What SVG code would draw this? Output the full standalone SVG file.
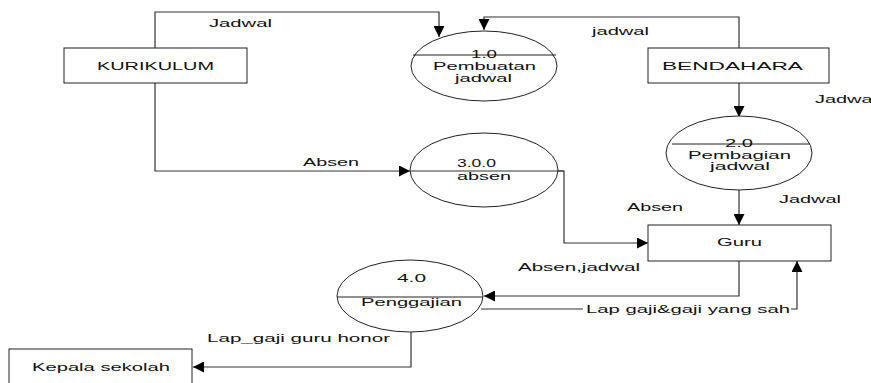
<svg xmlns="http://www.w3.org/2000/svg" width="871" height="383" viewBox="0 0 871 383">
<defs>
<style>
text{font-family:"Liberation Sans",Arial,sans-serif;font-size:11px;fill:#111}
.n{fill:#fff;stroke:#222;stroke-width:1}
.l{fill:none;stroke:#222;stroke-width:1}
.c{fill:none;stroke:#333;stroke-width:1.2}
</style>
<marker id="ah" viewBox="0 0 10 10" refX="10" refY="5" markerWidth="11" markerHeight="11" markerUnits="userSpaceOnUse" orient="auto">
<path d="M0,0 L10,5 L0,10 z" fill="#000"/>
</marker>
</defs>
<rect width="871" height="383" fill="#fff"/>
<g id="connectors">
<path class="c" d="M155,48 V12 H439 V37" marker-end="url(#ah)"/>
<path class="c" d="M739,48 V17 H484 V30" marker-end="url(#ah)"/>
<path class="c" d="M739,83 V117" marker-end="url(#ah)"/>
<path class="c" d="M739,190 V225" marker-end="url(#ah)"/>
<path class="c" d="M155,83 V171 H410" marker-end="url(#ah)"/>
<path class="c" d="M558,171 H564 V243 H648" marker-end="url(#ah)"/>
<path class="c" d="M739,261 V296 H484" marker-end="url(#ah)"/>
<path class="c" d="M481,309 H583"/>
<path class="c" d="M791,309 H797 V261" marker-end="url(#ah)"/>
<path class="c" d="M411,332 V367 H193" marker-end="url(#ah)"/>
<text x="209" y="27" textLength="63" lengthAdjust="spacingAndGlyphs">Jadwal</text>
<text x="592" y="35" textLength="57" lengthAdjust="spacingAndGlyphs">jadwal</text>
<text x="815" y="103" textLength="62" lengthAdjust="spacingAndGlyphs">Jadwal</text>
<text x="779" y="203" textLength="62" lengthAdjust="spacingAndGlyphs">Jadwal</text>
<text x="627" y="211" textLength="56" lengthAdjust="spacingAndGlyphs">Absen</text>
<text x="303" y="166" textLength="56" lengthAdjust="spacingAndGlyphs">Absen</text>
<text x="518" y="271" textLength="122" lengthAdjust="spacingAndGlyphs">Absen,jadwal</text>
<text x="586" y="313" textLength="204" lengthAdjust="spacingAndGlyphs">Lap gaji&amp;gaji yang sah</text>
<text x="207" y="342" textLength="183" lengthAdjust="spacingAndGlyphs">Lap_gaji guru honor</text>
</g>
<g id="kurikulum">
<rect class="n" x="64" y="48" width="183" height="35"/>
<text x="97" y="70" textLength="117" lengthAdjust="spacingAndGlyphs">KURIKULUM</text>
</g>
<g id="bendahara">
<rect class="n" x="648" y="48" width="181" height="35"/>
<text x="662" y="70" textLength="141" lengthAdjust="spacingAndGlyphs">BENDAHARA</text>
</g>
<g id="p1">
<ellipse class="n" cx="484" cy="66" rx="73" ry="35"/>
<line class="l" x1="413" y1="55" x2="556" y2="55"/>
<text x="471" y="58" textLength="26" lengthAdjust="spacingAndGlyphs">1.0</text>
<text x="433" y="70" textLength="103" lengthAdjust="spacingAndGlyphs">Pembuatan</text>
<text x="455" y="82" textLength="57" lengthAdjust="spacingAndGlyphs">jadwal</text>
</g>
<g id="p2">
<ellipse class="n" cx="739" cy="153" rx="73" ry="37"/>
<line class="l" x1="672" y1="144" x2="810" y2="144"/>
<text x="725" y="147" textLength="28" lengthAdjust="spacingAndGlyphs">2.0</text>
<text x="688" y="159" textLength="103" lengthAdjust="spacingAndGlyphs">Pembagian</text>
<text x="710" y="170" textLength="60" lengthAdjust="spacingAndGlyphs">jadwal</text>
</g>
<g id="p3">
<ellipse class="n" cx="484" cy="170" rx="74" ry="37"/>
<line class="c" x1="410" y1="171" x2="564" y2="171"/>
<text x="457" y="167" textLength="39" lengthAdjust="spacingAndGlyphs">3.0.0</text>
<text x="457" y="180" textLength="54" lengthAdjust="spacingAndGlyphs">absen</text>
</g>
<g id="guru">
<rect class="n" x="648" y="225" width="183" height="36"/>
<text x="717" y="246" textLength="45" lengthAdjust="spacingAndGlyphs">Guru</text>
</g>
<g id="p4">
<ellipse class="n" cx="410" cy="296" rx="73" ry="36"/>
<line class="l" x1="337" y1="297" x2="483" y2="297"/>
<text x="397" y="282" textLength="29" lengthAdjust="spacingAndGlyphs">4.0</text>
<text x="361" y="306" textLength="101" lengthAdjust="spacingAndGlyphs">Penggajian</text>
</g>
<g id="kepala">
<rect class="n" x="9" y="349" width="183" height="45"/>
<text x="32" y="371" textLength="138" lengthAdjust="spacingAndGlyphs">Kepala sekolah</text>
</g>
</svg>
